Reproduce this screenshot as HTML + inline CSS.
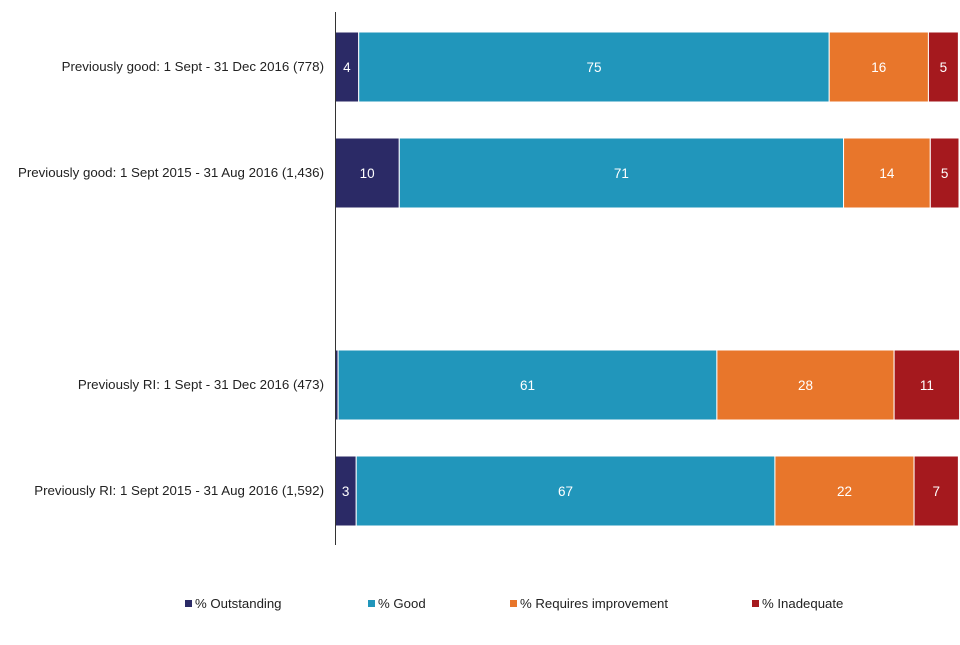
<!DOCTYPE html>
<html><head><meta charset="utf-8">
<style>
body{margin:0;background:#fff;font-family:"Liberation Sans",sans-serif;}
svg text{font-family:"Liberation Sans",sans-serif;}
</style></head>
<body>
<svg id="chart" width="960" height="640"></svg>
<script>
const categories=["Previously good: 1 Sept - 31 Dec 2016 (778)","Previously good: 1 Sept 2015 - 31 Aug 2016 (1,436)","","Previously RI: 1 Sept - 31 Dec 2016 (473)","Previously RI: 1 Sept 2015 - 31 Aug 2016 (1,592)"];
const outstanding=[3.8,10.3,null,0.5,3.4];
const good=[75.4,71.2,null,60.7,67.1];
const requiresImprovement=[15.9,13.9,null,28.4,22.3];
const inadequate=[4.8,4.6,null,10.5,7.1];
const seriesNames=["% Outstanding","% Good","% Requires improvement","% Inadequate"];
const colors=["#2b2a66","#2196bb","#e8762b","#a5191e"];
const series=[outstanding,good,requiresImprovement,inadequate];
const svg=document.getElementById('chart');
const NS="http://www.w3.org/2000/svg";
const x0=335,x1=959,yTop=14,band=106;
const xs=v=>x0+v*(x1-x0)/100;
const yc=i=>yTop+band*i+band/2;
function mk(t,a){const e=document.createElementNS(NS,t);for(const k in a)e.setAttribute(k,a[k]);svg.appendChild(e);return e;}
categories.forEach((c,i)=>{
  if(series[0][i]==null)return;
  let cum=0;
  series.forEach((s,j)=>{
    const v=s[i];
    const r=mk('rect',{x:xs(cum),y:yc(i)-35,width:xs(cum+v)-xs(cum),height:70,fill:colors[j],stroke:'#fff','stroke-width':1});
    
    
    if(v>=1){
      const t=mk('text',{x:(xs(cum)+xs(cum+v))/2,y:yc(i)+5,'text-anchor':'middle','font-size':13.5,fill:'#fff'});
      t.textContent=Math.round(v);
      
      
    }
    cum+=v;
  });
  const l=mk('text',{x:324,y:yc(i)+4,'text-anchor':'end','font-size':13.3,fill:'#222'});
  l.textContent=c;
  
  
});
const ax=mk('line',{x1:335.5,x2:335.5,y1:12,y2:545,stroke:'#333','stroke-width':1});


const lx=[185,368,510,752];
seriesNames.forEach((n,j)=>{
  const r=mk('rect',{x:lx[j],y:600,width:7,height:7,fill:colors[j]});
  
  
  const t=mk('text',{x:lx[j]+10,y:608,'font-size':13.2,fill:'#222'});
  t.textContent=n;
  
  
});
</script>
</body></html>
